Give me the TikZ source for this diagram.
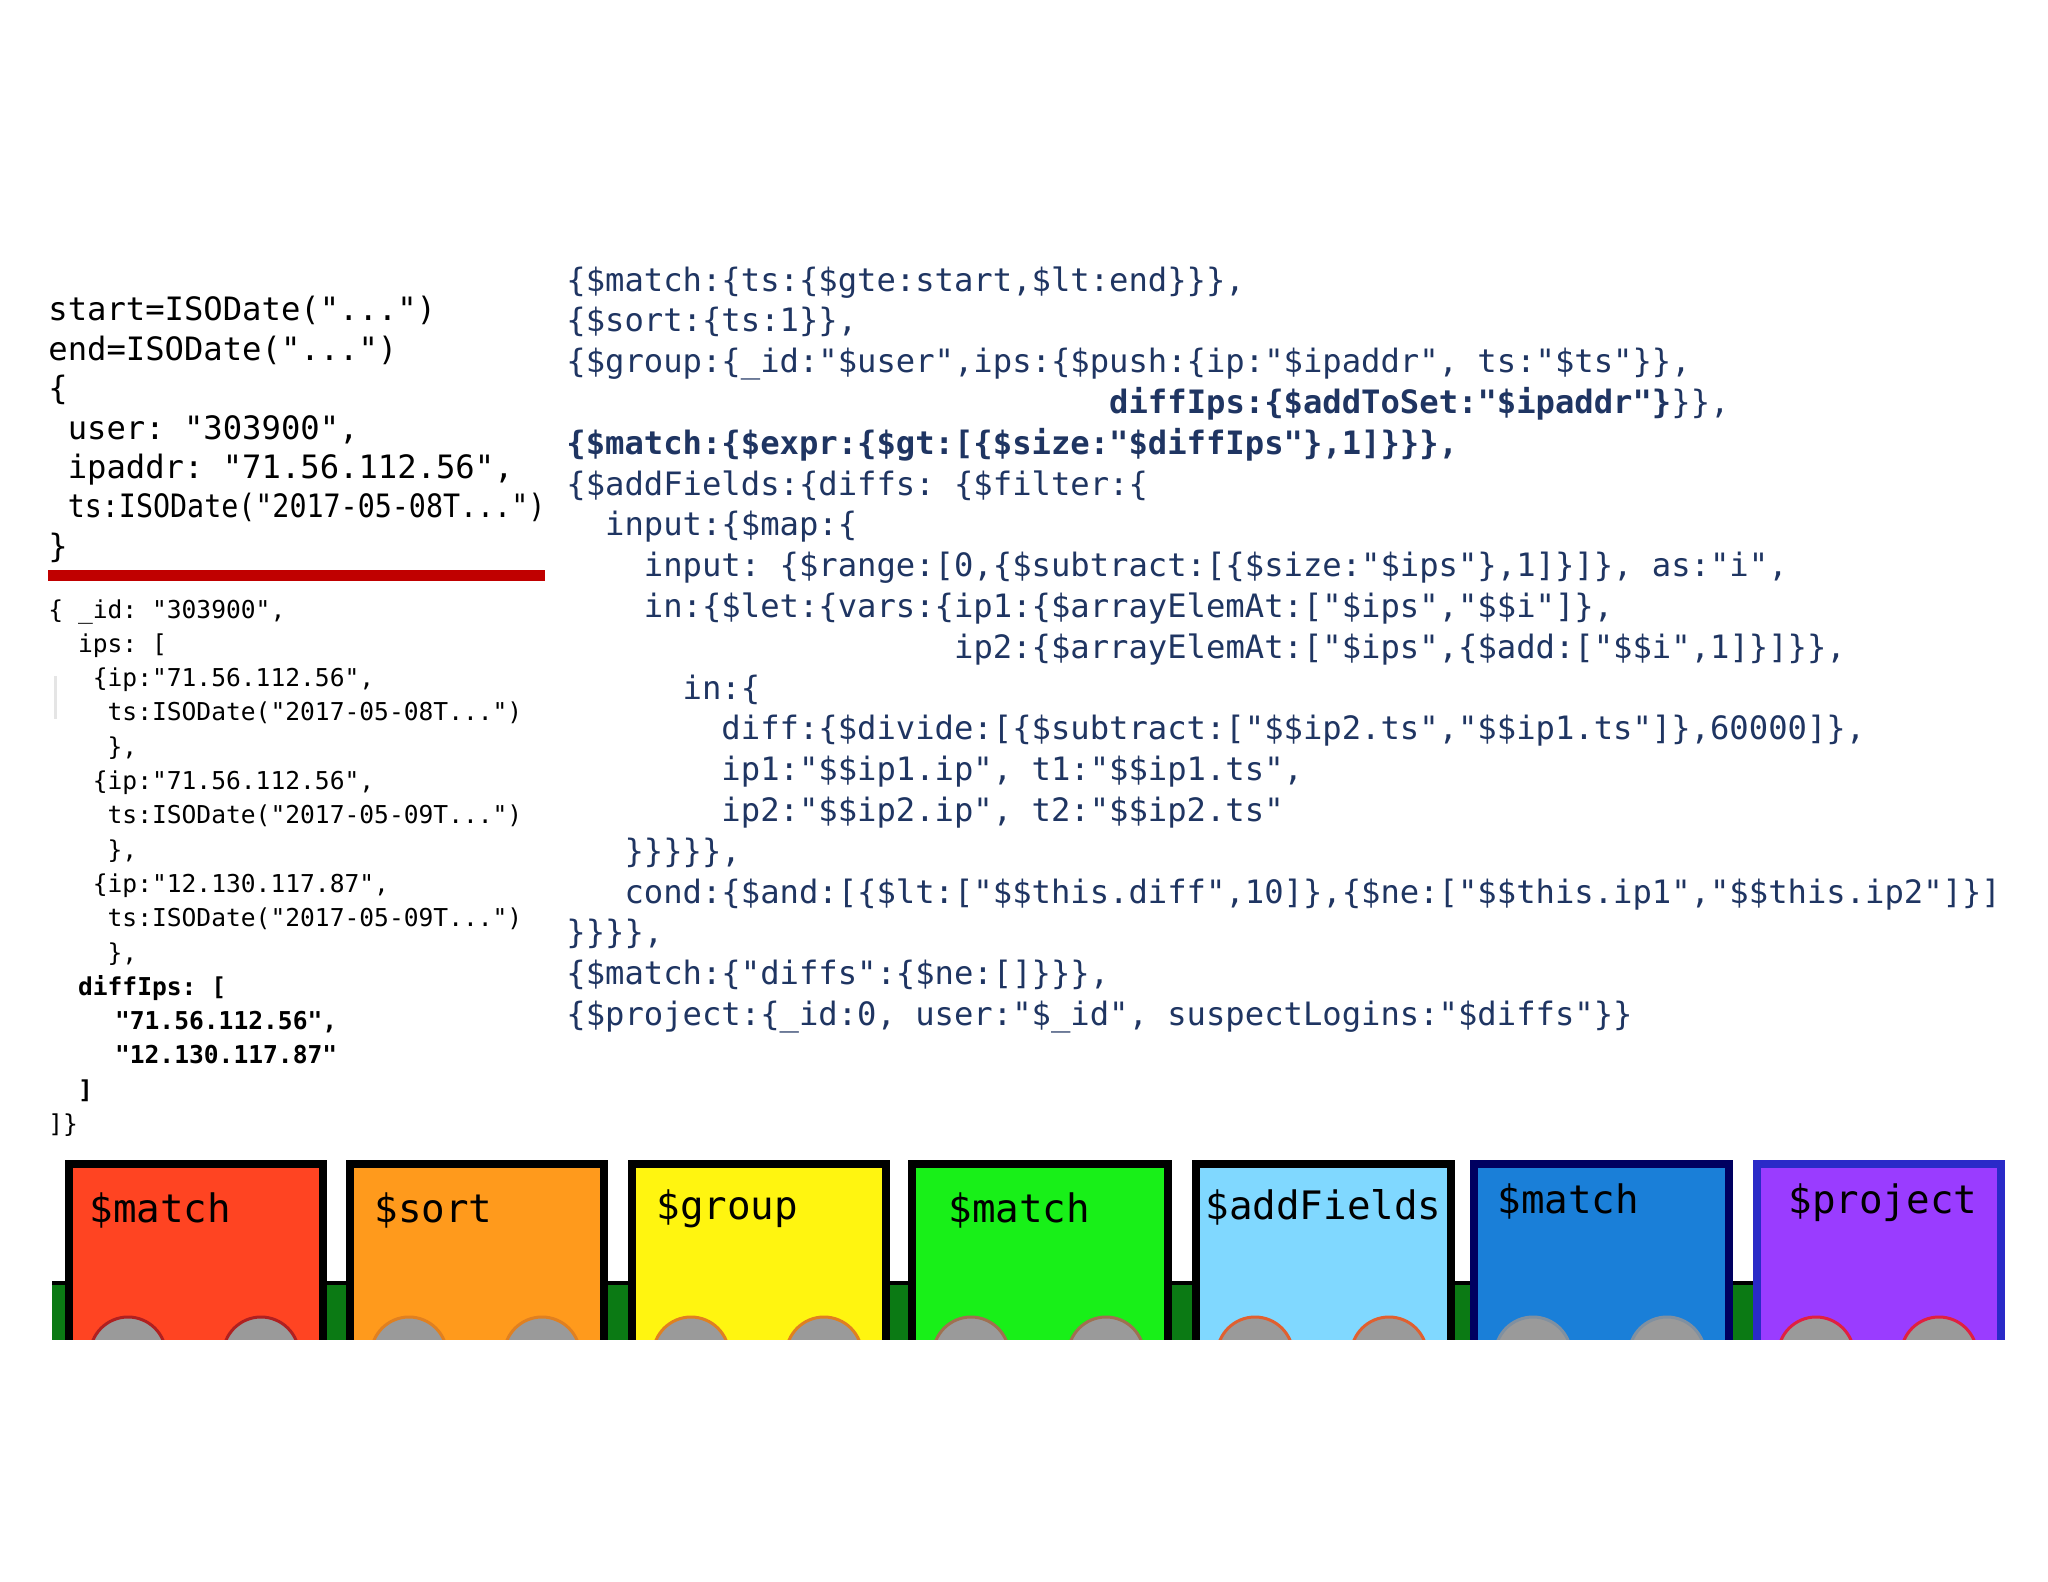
\documentclass[tikz,border=0pt]{standalone}
\usepackage{fontspec}
\setmonofont{DejaVu Sans Mono}
\usepackage{graphicx}
\usepackage{tikz}

\definecolor{codenavy}{HTML}{1F3562}
\definecolor{barred}{HTML}{C00000}
\definecolor{stripgreen}{HTML}{0B7A14}
\definecolor{wheelgray}{HTML}{9A9A9A}
\definecolor{carred}{HTML}{FF4422}
\definecolor{carorange}{HTML}{FF9A1C}
\definecolor{caryellow}{HTML}{FFF510}
\definecolor{cargreen}{HTML}{18F018}
\definecolor{carsky}{HTML}{80D8FF}
\definecolor{carblue}{HTML}{1A7FD8}
\definecolor{carpurple}{HTML}{9A3CFF}
\definecolor{rimnavy}{HTML}{000060}
\definecolor{rimblue}{HTML}{2A2AC8}
\definecolor{wheelred}{HTML}{B02020}
\definecolor{wheelorange}{HTML}{E08020}
\definecolor{wheelbrown}{HTML}{A07050}
\definecolor{wheelcoral}{HTML}{E06030}
\definecolor{wheelsteel}{HTML}{8090A0}
\definecolor{wheelpink}{HTML}{E02040}

\newcommand\codeindent[1]{\hspace*{#1\fontcharwd\font`0}}

\tikzset{
  codeblock/.style={anchor=north west, inner sep=0pt, align=left},
  bigcode/.style={font=\ttfamily\fontsize{16.1}{20.4}\selectfont},
  smallcode/.style={font=\ttfamily\fontsize{12.3}{17.15}\selectfont},
  carlabel/.style={anchor=base west, inner sep=0pt, font=\ttfamily\fontsize{19.6}{23}\selectfont},
}

\begin{document}
\begin{tikzpicture}[x=0.5pt, y=-0.5pt]
  \useasboundingbox (0,0) rectangle (2048,1582);
  \fill[white] (0,0) rectangle (2048,1582);

  % sample login document
  \node[codeblock, font=\ttfamily\fontsize{16.1}{19.7}\selectfont] (login) at (48,296) {%
    start=ISODate("...")\\
    end=ISODate("...")\\
    \{\\
    \codeindent{1}user: "303900",\\
    \codeindent{1}ipaddr: "71.56.112.56",\\
    \codeindent{1}\scalebox{0.88}[1]{ts:ISODate("2017-05-08T...")}\\
    \}};
  \fill[barred] (48,570) rectangle (545,581);

  % grouped result
  \node[codeblock, smallcode] (grouped) at (48,599) {%
    \{ \_id: "303900",\\
    \codeindent{2}ips: [\\
    \codeindent{3}\{ip:"71.56.112.56",\\
    \codeindent{4}ts:ISODate("2017-05-08T...")\\
    \codeindent{4}\},\\
    \codeindent{3}\{ip:"71.56.112.56",\\
    \codeindent{4}ts:ISODate("2017-05-09T...")\\
    \codeindent{4}\},\\
    \codeindent{3}\{ip:"12.130.117.87",\\
    \codeindent{4}ts:ISODate("2017-05-09T...")\\
    \codeindent{4}\},\\
    \codeindent{2}\textbf{diffIps: [}\\
    \codeindent{4.5}\textbf{"71.56.112.56",}\\
    \codeindent{4.5}\textbf{"12.130.117.87"}\\
    \codeindent{2}\textbf{]}\\
    ]\}};
  \draw[gray!20, line width=1.5pt] (55,676) -- (55,719);

  % aggregation pipeline
  \node[codeblock, bigcode, text=codenavy] (pipeline) at (566,266) {%
    \{\$match:\{ts:\{\$gte:start,\$lt:end\}\}\},\\
    \{\$sort:\{ts:1\}\},\\
    \{\$group:\{\_id:"\$user",ips:\{\$push:\{ip:"\$ipaddr", ts:"\$ts"\}\},\\
    \codeindent{28}\textbf{diffIps:\{\$addToSet:"\$ipaddr"\}}\}\},\\
    \textbf{\{\$match:\{\$expr:\{\$gt:[\{\$size:"\$diffIps"\},1]\}\}\},}\\
    \{\$addFields:\{diffs: \{\$filter:\{\\
    \codeindent{2}input:\{\$map:\{\\
    \codeindent{4}input: \{\$range:[0,\{\$subtract:[\{\$size:"\$ips"\},1]\}]\}, as:"i",\\
    \codeindent{4}in:\{\$let:\{vars:\{ip1:\{\$arrayElemAt:["\$ips","\$\$i"]\},\\
    \codeindent{20}ip2:\{\$arrayElemAt:["\$ips",\{\$add:["\$\$i",1]\}]\}\},\\
    \codeindent{6}in:\{\\
    \codeindent{8}diff:\{\$divide:[\{\$subtract:["\$\$ip2.ts","\$\$ip1.ts"]\},60000]\},\\
    \codeindent{8}ip1:"\$\$ip1.ip", t1:"\$\$ip1.ts",\\
    \codeindent{8}ip2:"\$\$ip2.ip", t2:"\$\$ip2.ts"\\
    \codeindent{3}\}\}\}\}\},\\
    \codeindent{3}cond:\{\$and:[\{\$lt:["\$\$this.diff",10]\},\{\$ne:["\$\$this.ip1","\$\$this.ip2"]\}]\\
    \}\}\}\},\\
    \{\$match:\{"diffs":\{\$ne:[]\}\}\},\\
    \{\$project:\{\_id:0, user:"\$\_id", suspectLogins:"\$diffs"\}\}};

  % pipeline train
  \begin{scope}
    \clip (0,0) rectangle (2048,1339);
    \fill[stripgreen] (52,1283) rectangle (2000,1345);
    \draw[black, line width=2pt] (52,1283) -- (2000,1283);
    \foreach \l/\r/\c/\b/\w/\tx/\ty/\name [count=\i] in {
        65/327/carred/black/wheelred/89/1222/match,
        346/608/carorange/black/wheelorange/374/1222/sort,
        628/890/caryellow/black/wheelorange/656/1219/group,
        908/1172/cargreen/black/wheelbrown/948/1222/match,
        1192/1455/carsky/black/wheelcoral/1205/1219/addFields,
        1470/1733/carblue/rimnavy/wheelsteel/1497/1213/match,
        1753/2005/carpurple/rimblue/wheelpink/1788/1213/project} {
      \filldraw[fill=\c, draw=\b, line width=4pt] ({\l+4},1360) rectangle ({\r-4},1164);
      \filldraw[fill=wheelgray, draw=\w, line width=1.5pt]
        ({\l+63},1355) circle (38) ({\r-66},1355) circle (38);
      \node[carlabel] (car\i) at (\tx,\ty) {\$\name};
    }
  \end{scope}
\end{tikzpicture}
\end{document}
